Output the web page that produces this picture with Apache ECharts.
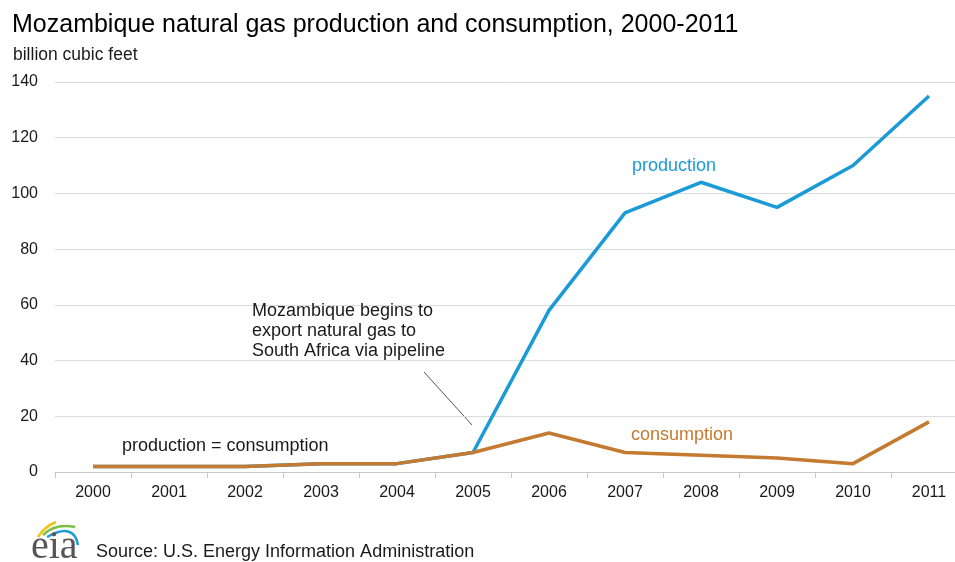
<!DOCTYPE html>
<html><head><meta charset="utf-8">
<script src="https://cdn.jsdelivr.net/npm/echarts@6/dist/echarts.min.js"></script>
<style>html,body{margin:0;padding:0;background:#fff}#c{width:955px;height:562px}</style>
</head><body><div id="c"></div>
<script>
const years = ['2000','2001','2002','2003','2004','2005','2006','2007','2008','2009','2010','2011'];
const production = [2, 2, 2, 3, 3, 7, 58, 93, 104, 95, 110, 135];
const consumption = [2, 2, 2, 3, 3, 7, 14, 7, 6, 5, 3, 18];
const yTicks = [0, 20, 40, 60, 80, 100, 120, 140];

const F = '"Liberation Sans", Arial, sans-serif';
const chart = echarts.init(document.getElementById('c'), null, {renderer: 'canvas'});
function txt(x, y, text, size, fill) {
  return {type: 'text', z: 100, style: {x: x, y: y, text: text, font: size + 'px ' + F, fill: fill, verticalAlign: 'middle'}};
}
chart.setOption({
  animation: false,
  backgroundColor: '#fff',
  grid: {left: 55, width: 912, top: 82, bottom: 90, containLabel: false, outerBoundsMode: 'none'},
  xAxis: {
    type: 'category', data: years, boundaryGap: true,
    axisLine: {lineStyle: {color: '#c8c8c8', width: 1}},
    axisTick: {show: true, length: 6, lineStyle: {color: '#c8c8c8'}},
    axisLabel: {color: '#1a1a1a', fontFamily: F, fontSize: 16, margin: 13}
  },
  yAxis: {
    type: 'value', min: yTicks[0], max: yTicks[yTicks.length - 1], interval: 20,
    axisLine: {show: false}, axisTick: {show: false},
    splitLine: {lineStyle: {color: '#dcdcdc', width: 1}},
    axisLabel: {color: '#1a1a1a', fontFamily: F, fontSize: 16, margin: 17}
  },
  series: [
    {name: 'production', type: 'line', data: production, symbol: 'none',
     lineStyle: {color: '#1a9bd7', width: 3.5}, z: 2},
    {name: 'consumption', type: 'line', data: consumption, symbol: 'none',
     lineStyle: {color: '#c47a30', width: 3.5}, z: 3}
  ],
  graphic: [
    txt(12, 25, 'Mozambique natural gas production and consumption, 2000-2011', 25, '#000'),
    txt(13, 55, 'billion cubic feet', 17.5, '#1a1a1a'),
    txt(252, 311, 'Mozambique begins to', 18, '#1a1a1a'),
    txt(252, 331, 'export natural gas to', 18, '#1a1a1a'),
    txt(252, 351, 'South Africa via pipeline', 18, '#1a1a1a'),
    {type: 'line', shape: {x1: 424, y1: 372, x2: 472, y2: 425}, style: {stroke: '#555', lineWidth: 1}},
    txt(122, 446, 'production = consumption', 18, '#1a1a1a'),
    txt(632, 166, 'production', 18, '#1a9bd7'),
    txt(631, 435, 'consumption', 18, '#c47a30'),
    txt(96, 552, 'Source: U.S. Energy Information Administration', 18, '#1a1a1a'),
    {type: 'text', z: 100, style: {x: 31, y: 547, text: 'eia', font: '40px "Liberation Serif", "DejaVu Serif", serif', fill: '#555', verticalAlign: 'middle'}},
    {type: 'bezierCurve', shape: {x1: 38, y1: 537, cpx1: 44, cpy1: 527, x2: 56, y2: 522}, style: {stroke: '#f2c318', lineWidth: 2.5, fill: null}},
    {type: 'bezierCurve', shape: {x1: 43, y1: 535, cpx1: 55, cpy1: 523, x2: 75, y2: 527}, style: {stroke: '#7cc043', lineWidth: 2.5, fill: null}},
    {type: 'bezierCurve', shape: {x1: 47, y1: 537, cpx1: 74, cpy1: 522, x2: 78, y2: 545}, style: {stroke: '#1a9bd7', lineWidth: 2.5, fill: null}}
  ]
});
</script></body></html>
